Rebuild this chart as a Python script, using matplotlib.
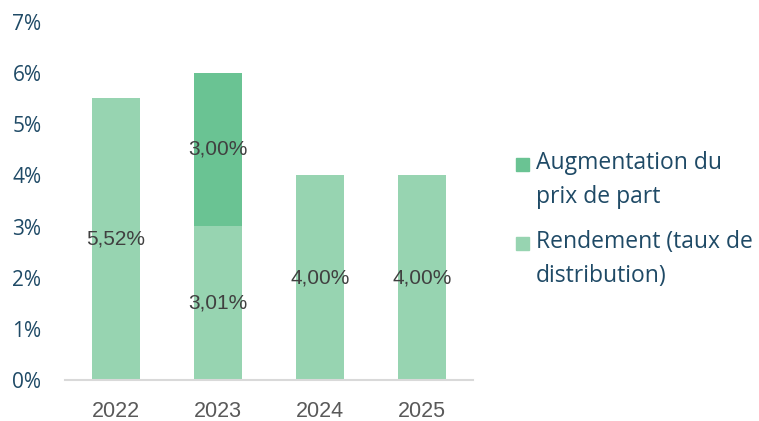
import matplotlib.pyplot as plt
from matplotlib.patches import Rectangle

years = ['2022', '2023', '2024', '2025']
rendement = [5.52, 3.01, 4.00, 4.00]
augmentation = [0, 3.00, 0, 0]
y_ticks = [0, 1, 2, 3, 4, 5, 6, 7]
legend_labels = ['Augmentation du\nprix de part', 'Rendement (taux de\ndistribution)']

light = '#97D4B1'
dark = '#6AC393'
navy = '#1F4A66'

fig = plt.figure(figsize=(7.59, 4.21), dpi=100)
ax = fig.add_axes([65 / 759, 1 - 380 / 421, 408 / 759, 358 / 421])

x = range(len(years))
ax.bar(x, rendement, width=0.47, color=light)
ax.bar(x, augmentation, width=0.47, bottom=rendement, color=dark)

for i, v in enumerate(rendement):
    ax.text(i, v / 2, f'{v:.2f}%'.replace('.', ','), ha='center', va='center',
            fontsize=15, color='#404040', family='Liberation Sans')
for i, v in enumerate(augmentation):
    if v > 0:
        ax.text(i, rendement[i] + v / 2, f'{v:.2f}%'.replace('.', ','), ha='center',
                va='center', fontsize=15, color='#404040', family='Liberation Sans')

ax.set_ylim(0, 7)
ax.set_xlim(-0.5, 3.5)
ax.set_yticks(y_ticks)
ax.set_yticklabels([f'{t}%' for t in y_ticks], color=navy, fontsize=15, family='Open Sans')
ax.set_xticks(list(x))
ax.set_xticklabels(years, color='#595959', fontsize=15.5, family='Liberation Sans')
ax.tick_params(length=0)
ax.tick_params(axis='y', pad=17)
ax.tick_params(axis='x', pad=15)
for s in ['top', 'right', 'left']:
    ax.spines[s].set_visible(False)
ax.spines['bottom'].set_color('#D9D9D9')
ax.spines['bottom'].set_linewidth(1.5)

# legend drawn by hand so the square sits on the first line of each label
W, H = 759, 421
for (label, col, ytop) in zip(legend_labels, [dark, light], [158, 237]):
    fig.patches.append(Rectangle((516 / W, 1 - (ytop + 13) / H), 13 / W, 13 / H,
                                 transform=fig.transFigure, color=col))
    fig.text(536 / W, 1 - (ytop - 7) / H, label, ha='left', va='top', color=navy,
             family='Open Sans', fontsize=16.5, linespacing=1.55)

fig.savefig('out.png', dpi=100)
